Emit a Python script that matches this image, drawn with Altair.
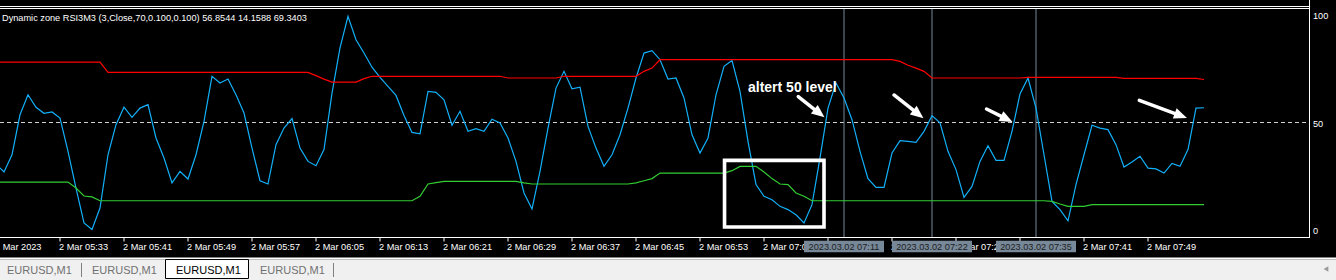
import math
import altair as alt
import pandas as pd

# ---------------- data ----------------
DAY = "2023-03-02"
FIRST_BAR = "05:25"          # one bar per minute

RSI = [
    30.7, 27.0, 35.0, 53.6, 62.9, 57.1, 54.3, 54.9,
    52.1, 36.6, 19.5, 3.3, 0.2, 10.2, 35.0, 49.0,
    57.1, 52.4, 56.7, 58.3, 42.8, 33.5, 21.9, 27.3,
    23.7, 35.0, 50.5, 71.5, 68.4, 70.2, 62.9, 54.4,
    38.1, 22.9, 21.4, 39.7, 47.4, 51.8, 38.1, 31.9,
    29.9, 37.4, 63.7, 84.7, 99.4, 88.5, 82.3, 75.7,
    71.0, 66.8, 62.6, 53.3, 45.4, 44.7, 64.5, 64.0,
    60.6, 48.7, 55.2, 45.9, 47.1, 45.9, 51.5, 49.8,
    42.8, 31.9, 17.2, 9.8, 27.3, 47.4, 66.0, 73.8,
    65.7, 66.4, 48.2, 38.1, 29.6, 35.0, 44.3, 56.7,
    70.7, 82.3, 83.4, 79.2, 70.2, 70.7, 61.4, 44.3,
    35.8, 42.8, 62.9, 76.1, 78.8, 64.5, 41.2, 21.1,
    15.7, 14.1, 11.0, 9.5, 7.1, 3.3, 11.8, 33.5,
    56.7, 68.4, 61.4, 51.3, 36.6, 23.9, 19.8, 19.8,
    35.8, 41.6, 41.2, 40.8, 45.9, 53.2, 49.8, 36.6,
    28.1, 15.2, 20.3, 31.9, 39.2, 32.4, 32.4, 45.9,
    63.3, 70.7, 56.7, 35.0, 13.3, 9.5, 4.3, 21.1,
    35.0, 48.7, 47.4, 46.7, 39.7, 29.3, 31.6, 34.3,
    28.8, 28.4, 26.5, 31.0, 29.6, 37.4, 56.7, 56.85,
]

UPPER = [
    78.1, 78.1, 78.1, 78.1, 78.1, 78.1, 78.1, 78.1,
    78.1, 78.1, 78.1, 78.1, 78.1, 78.1, 73.3, 73.3,
    73.3, 73.3, 73.3, 73.3, 73.3, 73.3, 73.3, 73.3,
    73.3, 73.3, 73.3, 73.3, 73.3, 73.3, 73.3, 73.3,
    73.3, 73.3, 73.3, 73.3, 73.3, 73.3, 73.3, 73.3,
    71.8, 70.2, 68.8, 68.8, 68.8, 68.8, 70.4, 71.5,
    71.5, 71.5, 71.5, 71.5, 71.5, 71.5, 71.5, 71.5,
    71.5, 71.5, 71.5, 71.5, 71.5, 71.5, 71.5, 71.5,
    70.7, 70.7, 70.7, 70.7, 70.7, 70.7, 70.7, 71.5,
    71.5, 71.5, 71.5, 71.5, 71.5, 71.5, 71.5, 71.5,
    71.5, 73.8, 75.3, 79.2, 79.2, 79.2, 79.2, 79.2,
    79.2, 79.2, 79.2, 79.2, 79.2, 79.2, 79.2, 79.2,
    79.2, 79.2, 79.2, 79.2, 79.2, 79.2, 79.2, 79.2,
    79.2, 79.2, 79.2, 79.2, 79.2, 79.2, 79.2, 79.2,
    79.2, 78.4, 76.6, 75.3, 73.8, 70.7, 70.7, 70.7,
    70.7, 70.7, 70.7, 70.7, 70.7, 70.7, 70.7, 70.7,
    70.7, 71.0, 71.0, 71.0, 71.0, 71.0, 71.0, 71.0,
    71.0, 71.0, 71.0, 71.0, 71.0, 70.5, 70.5, 70.5,
    70.5, 70.5, 70.5, 70.5, 70.5, 70.5, 70.5, 70.0,
]

LOWER = [
    22.3, 22.3, 22.3, 22.3, 22.3, 22.3, 22.3, 22.3,
    22.3, 22.3, 19.5, 15.8, 15.4, 13.6, 13.6, 13.6,
    13.6, 13.6, 13.6, 13.6, 13.6, 13.6, 13.6, 13.6,
    13.6, 13.6, 13.6, 13.6, 13.6, 13.6, 13.6, 13.6,
    13.6, 13.6, 13.6, 13.6, 13.6, 13.6, 13.6, 13.6,
    13.6, 13.6, 13.6, 13.6, 13.6, 13.6, 13.6, 13.6,
    13.6, 13.6, 13.6, 13.6, 13.6, 15.7, 21.4, 22.0,
    22.6, 22.6, 22.6, 22.6, 22.6, 22.6, 22.6, 22.6,
    22.6, 22.6, 21.9, 21.4, 21.4, 21.4, 21.4, 21.4,
    21.4, 21.4, 21.4, 21.4, 21.4, 21.4, 21.4, 21.4,
    21.9, 22.9, 23.9, 26.5, 26.5, 26.5, 26.5, 26.5,
    26.5, 26.5, 26.5, 26.5, 27.6, 29.6, 29.6, 29.6,
    27.0, 23.9, 21.4, 21.1, 17.2, 15.7, 13.6, 13.6,
    13.6, 13.6, 13.6, 13.6, 13.6, 13.6, 13.6, 13.6,
    13.6, 13.6, 13.6, 13.6, 13.6, 13.6, 13.6, 13.6,
    13.6, 13.6, 13.6, 13.6, 13.6, 13.6, 13.6, 13.6,
    13.6, 13.6, 13.6, 13.6, 13.3, 12.1, 11.0, 11.0,
    11.0, 11.8, 11.8, 11.8, 11.8, 11.8, 11.8, 11.8,
    11.8, 11.8, 11.8, 11.8, 11.8, 11.8, 11.8, 11.8,
]

TICK_TIMES = ["05:25", "05:33", "05:41", "05:49", "05:57", "06:05", "06:13",
              "06:21", "06:29", "06:37", "06:45", "06:53", "07:01", "07:09",
              "07:17", "07:25", "07:33", "07:41", "07:49"]
TICK_LABELS = ["2 Mar 2023", "2 Mar 05:33", "2 Mar 05:41", "2 Mar 05:49",
               "2 Mar 05:57", "2 Mar 06:05", "2 Mar 06:13", "2 Mar 06:21",
               "2 Mar 06:29", "2 Mar 06:37", "2 Mar 06:45", "2 Mar 06:53",
               "2 Mar 07:01", "2 Mar 07:09", "2 Mar 07:17", "2 Mar 07:25",
               "2 Mar 07:33", "2 Mar 07:41", "2 Mar 07:49"]
Y_TICKS = [100, 50, 0]
LEVEL = [50]

MARKER_TIMES = ["07:11", "07:22", "07:35"]
MARKER_LABELS = ["2023.03.02 07:11", "2023.03.02 07:22", "2023.03.02 07:35"]

TITLE = "Dynamic zone RSI3M3 (3,Close,70,0.100,0.100) 56.8544 14.1588 69.3403"

NOTE_TEXT = ["altert 50 level"]
NOTE_TIME = ["06:59:00"]
NOTE_VALUE = [64.1]

BOX_T1 = ["06:56:04"]
BOX_T2 = ["07:08:30"]
BOX_V1 = [1.4]
BOX_V2 = [32.4]

ARROW_TAIL_T = ["07:05:17", "07:17:15", "07:28:49", "07:47:55"]
ARROW_TAIL_V = [62.0, 62.8, 56.3, 60.3]
ARROW_TIP_T = ["07:08:34", "07:20:56", "07:32:04", "07:53:52"]
ARROW_TIP_V = [52.4, 52.0, 50.2, 52.1]

TABS = ["EURUSD,M1", "EURUSD,M1", "EURUSD,M1", "EURUSD,M1"]
ACTIVE_TAB = 2

# ---------------- layout / style ----------------
W, H = 1336, 280
FONT = "Liberation Sans"
BLUE, RED, GREEN, SLATE = "#12B0F8", "#FF0000", "#32CD32", "#778899"

X_DOMAIN_MIN = (pd.Timestamp(f"{DAY} 05:25:30"), pd.Timestamp(f"{DAY} 08:12:30"))
Y_DOMAIN = [-23.256, 106.977]


def dt(ts):
    return alt.DateTime(year=ts.year, month=ts.month, date=ts.day,
                        hours=ts.hour, minutes=ts.minute, seconds=ts.second)


xs = alt.Scale(type="time", domain=[dt(X_DOMAIN_MIN[0]), dt(X_DOMAIN_MIN[1])], nice=False)
ys = alt.Scale(domain=Y_DOMAIN, nice=False, zero=False)


def X(f):
    return alt.X(f"{f}:T", scale=xs, axis=None)


def Y(f):
    return alt.Y(f"{f}:Q", scale=ys, axis=None)


def iso(hms):
    return pd.Timestamp(f"{DAY} {hms}").strftime("%Y-%m-%dT%H:%M:%S")


PX_PER_MIN = W / ((X_DOMAIN_MIN[1] - X_DOMAIN_MIN[0]).total_seconds() / 60)
PX_PER_UNIT = H / (Y_DOMAIN[1] - Y_DOMAIN[0])

one = pd.DataFrame({"a": [0]})

bars = pd.date_range(f"{DAY} {FIRST_BAR}", periods=len(RSI), freq="min")
series = pd.DataFrame({
    "t": bars.strftime("%Y-%m-%dT%H:%M:%S"),
    "rsi": RSI, "upper": UPPER, "lower": LOWER,
})

# arrows: shaft + head
head_len = 13.0
rows = []
for t0, v0, t1, v1 in zip(ARROW_TAIL_T, ARROW_TAIL_V, ARROW_TIP_T, ARROW_TIP_V):
    a, b = pd.Timestamp(f"{DAY} {t0}"), pd.Timestamp(f"{DAY} {t1}")
    dmin = (b - a).total_seconds() / 60
    dxp = dmin * PX_PER_MIN
    dyp = -(v1 - v0) * PX_PER_UNIT
    L = math.hypot(dxp, dyp)
    f = (head_len * 0.75) / L
    end_t = b - pd.Timedelta(minutes=dmin * f)
    end_v = v1 - (v1 - v0) * f
    ang = math.degrees(math.atan2(dxp, -dyp)) % 360
    rows.append({"t0": a.strftime("%Y-%m-%dT%H:%M:%S"), "v0": v0,
                 "te": end_t.strftime("%Y-%m-%dT%H:%M:%S.%f")[:-3], "ve": end_v,
                 "t1": b.strftime("%Y-%m-%dT%H:%M:%S"), "v1": v1, "ang": ang})
arrows = pd.DataFrame(rows)

layers = []

# ---- bottom tab bar (window chrome) ----
layers.append(alt.Chart(one).mark_rect(color="#f0f0f0").encode(
    x=alt.value(0), x2=alt.value(W), y=alt.value(259.5), y2=alt.value(H)))
layers.append(alt.Chart(one).mark_rect(color="#ffffff").encode(
    x=alt.value(0), x2=alt.value(W), y=alt.value(257.5), y2=alt.value(259.5)))
tab_x = [7, 92, 176, 260]
tab_box = (165.5, 248.5)
layers.append(alt.Chart(one).mark_rect(fill="#ffffff", stroke="#000000", strokeWidth=1).encode(
    x=alt.value(tab_box[0]), x2=alt.value(tab_box[1]), y=alt.value(259.5), y2=alt.value(278.5)))
for i, (name, tx) in enumerate(zip(TABS, tab_x)):
    layers.append(alt.Chart(pd.DataFrame({"s": [name]})).mark_text(
        align="left", baseline="alphabetic", font=FONT, fontSize=11,
        color="#000000" if i == ACTIVE_TAB else "#707070").encode(
        x=alt.value(tx), y=alt.value(274), text="s:N"))
for sx in [81.5, 333.5]:
    layers.append(alt.Chart(one).mark_rule(color="#808080", strokeWidth=1).encode(
        x=alt.value(sx), y=alt.value(263), y2=alt.value(277)))
layers.append(alt.Chart(one).mark_point(shape="triangle-left", filled=True, size=30,
                                        color="#9a9a9a", opacity=1).encode(
    x=alt.value(1326), y=alt.value(269)))

# ---- frame ----
for yy in [6.5, 8.5]:
    layers.append(alt.Chart(one).mark_rule(color="#ffffff", strokeWidth=1).encode(
        x=alt.value(0), x2=alt.value(1310), y=alt.value(yy)))
layers.append(alt.Chart(one).mark_rule(color="#ffffff", strokeWidth=1).encode(
    x=alt.value(1309.5), y=alt.value(0), y2=alt.value(237.5)))
layers.append(alt.Chart(one).mark_rule(color="#ffffff", strokeWidth=1).encode(
    x=alt.value(0), x2=alt.value(1310), y=alt.value(237.5)))

# ---- level line ----
layers.append(alt.Chart(pd.DataFrame({"v": LEVEL})).mark_rule(
    color="#d0d0d0", strokeWidth=1, strokeDash=[4, 3]).encode(
    x=alt.value(0), x2=alt.value(1309), y=Y("v")))

# ---- vertical markers ----
markers = pd.DataFrame({"t": [iso(m) for m in MARKER_TIMES], "s": MARKER_LABELS})
layers.append(alt.Chart(markers).mark_rule(color=SLATE, strokeWidth=1).encode(
    x=X("t"), y=alt.value(9), y2=alt.value(237)))

# ---- indicator lines ----
layers.append(alt.Chart(series).mark_line(color=BLUE, strokeWidth=1.2).encode(
    x=X("t"), y=Y("rsi")))
layers.append(alt.Chart(series).mark_line(color=GREEN, strokeWidth=1.2).encode(
    x=X("t"), y=Y("lower")))
layers.append(alt.Chart(series).mark_line(color=RED, strokeWidth=1.2).encode(
    x=X("t"), y=Y("upper")))

# ---- annotations ----
box = pd.DataFrame({"t1": [iso(t) for t in BOX_T1], "t2": [iso(t) for t in BOX_T2],
                    "v1": BOX_V1, "v2": BOX_V2})
layers.append(alt.Chart(box).mark_rect(fillOpacity=0, stroke="#ffffff", strokeWidth=3.6).encode(
    x=X("t1"), x2="t2", y=Y("v1"), y2="v2"))

layers.append(alt.Chart(arrows).mark_rule(color="#ffffff", strokeWidth=3.5, strokeCap="round").encode(
    x=X("t0"), x2="te", y=Y("v0"), y2="ve"))
layers.append(alt.Chart(arrows).mark_point(
    shape="M0,0 L-0.42,1 L0.42,1 Z", filled=True, size=(2 * head_len) ** 2,
    color="#ffffff", opacity=1, strokeWidth=0).encode(
    x=X("t1"), y=Y("v1"), angle=alt.Angle("ang:Q", scale=None)))

note = pd.DataFrame({"t": [iso(t) for t in NOTE_TIME], "v": NOTE_VALUE, "s": NOTE_TEXT})
layers.append(alt.Chart(note).mark_text(
    align="left", baseline="alphabetic", font=FONT, fontSize=14, fontWeight="bold",
    color="#ffffff").encode(x=X("t"), y=Y("v"), text="s:N"))

# ---- title ----
layers.append(alt.Chart(pd.DataFrame({"s": [TITLE]})).mark_text(
    align="left", baseline="alphabetic", font=FONT, fontSize=9.2, color="#ffffff").encode(
    x=alt.value(2), y=alt.value(20.6), text="s:N"))

# ---- y labels ----
ylab = pd.DataFrame({"v": Y_TICKS, "s": [str(v) for v in Y_TICKS]})
layers.append(alt.Chart(ylab).mark_text(
    align="left", baseline="alphabetic", dy=4, font=FONT, fontSize=9.2, color="#ffffff").encode(
    x=alt.value(1313), y=Y("v"), text="s:N"))

# ---- x ticks & labels ----
xt = pd.DataFrame({"t": [iso(t) for t in TICK_TIMES], "s": TICK_LABELS})
layers.append(alt.Chart(xt).mark_rule(color="#ffffff", strokeWidth=1).encode(
    x=X("t"), y=alt.value(237.5), y2=alt.value(241.5)))
layers.append(alt.Chart(xt).mark_text(
    align="left", baseline="alphabetic", dx=-1, font=FONT, fontSize=9.2, color="#ffffff").encode(
    x=X("t"), y=alt.value(250), text="s:N"))

# ---- crosshair date boxes on the time axis ----
half = pd.Timedelta(minutes=5)
mb = pd.DataFrame({
    "a": [(pd.Timestamp(f"{DAY} {m}") - half).strftime("%Y-%m-%dT%H:%M:%S") for m in MARKER_TIMES],
    "b": [(pd.Timestamp(f"{DAY} {m}") + half).strftime("%Y-%m-%dT%H:%M:%S") for m in MARKER_TIMES],
    "t": [iso(m) for m in MARKER_TIMES], "s": MARKER_LABELS})
layers.append(alt.Chart(mb).mark_rect(color=SLATE).encode(
    x=X("a"), x2="b", y=alt.value(240.7), y2=alt.value(252.2)))
layers.append(alt.Chart(mb).mark_text(
    align="center", baseline="alphabetic", font=FONT, fontSize=9.2, color="#202020").encode(
    x=X("t"), y=alt.value(250), text="s:N"))

chart = alt.layer(*layers).properties(
    width=W, height=H, background="#000000", padding=0,
    autosize=alt.AutoSizeParams(type="none"),
).configure_view(stroke=None)

chart.save("out.html", embed_options={"renderer": "svg", "actions": False})
